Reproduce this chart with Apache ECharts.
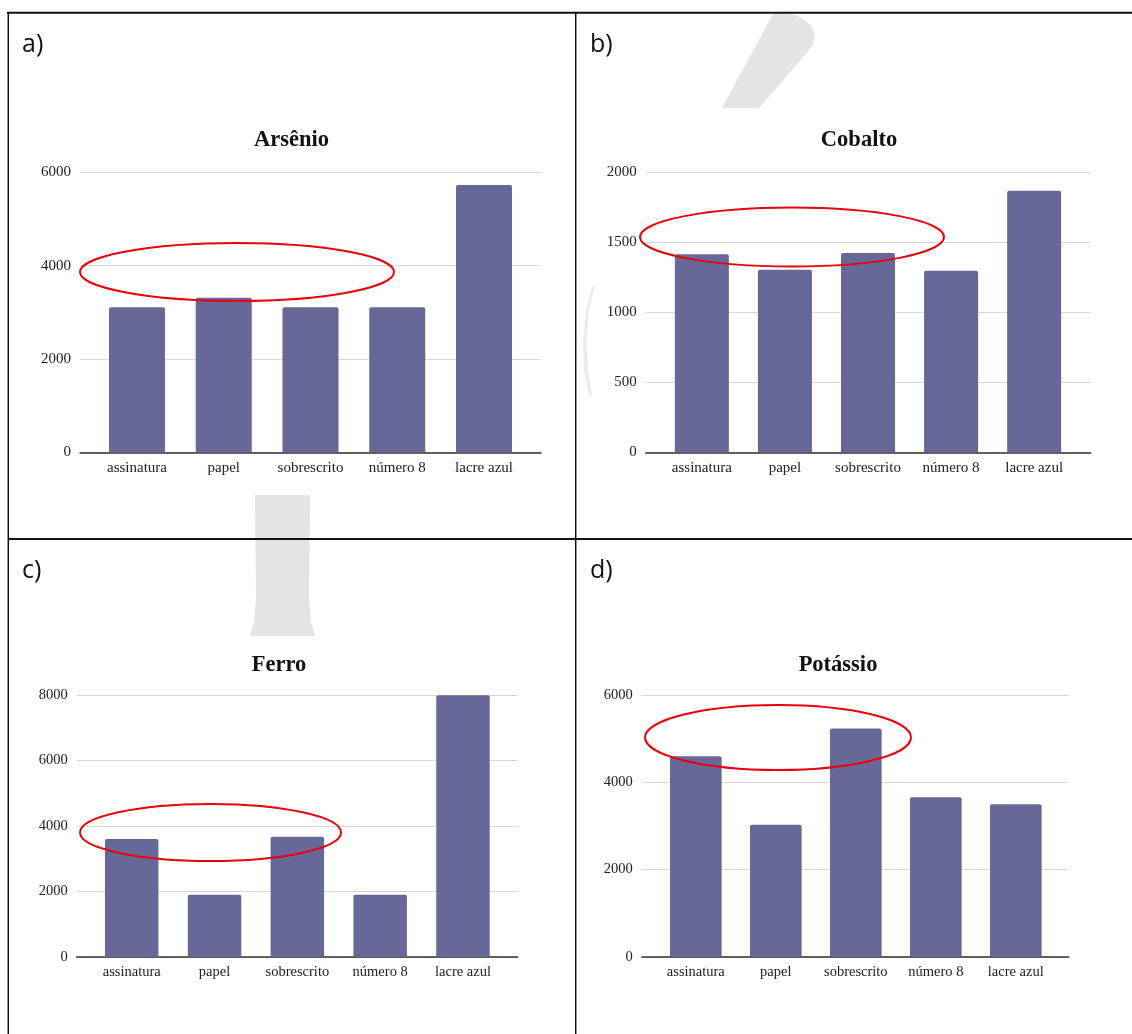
<!DOCTYPE html>
<html>
<head>
<meta charset="utf-8">
<script src="https://cdn.jsdelivr.net/npm/echarts@6/dist/echarts.min.js"></script>
<style>
html,body{margin:0;padding:0;background:#fff;}
#c{width:1132px;height:1034px;}
</style>
</head>
<body>
<div id="c"></div>
<script>
// ---- data ----
const categories = ['assinatura', 'papel', 'sobrescrito', 'número 8', 'lacre azul'];
const arsenio  = [3110, 3310, 3110, 3110, 5730];
const cobalto  = [1413, 1303, 1422, 1296, 1867];
const ferro    = [3600, 1900, 3670, 1900, 7990];
const potassio = [4600, 3030, 5230, 3660, 3500];
const titles = ['Arsênio', 'Cobalto', 'Ferro', 'Potássio'];
const panelLabels = ['a)', 'b)', 'c)', 'd)'];
const yMax = [6000, 2000, 8000, 6000];
const yStep = [2000, 500, 2000, 2000];
const seriesData = [arsenio, cobalto, ferro, potassio];

// ---- layout (styles / positions) ----
const layout = [
  {backL: 80,    backW: 461, frontL: 93.6,  frontW: 433.8, top: 172.3, h: 280,   barW: 56,   font: 15,   titleX: 291.5, titleY: 140, labelX: 22,  labelY: 45},
  {backL: 645.7, backW: 445, frontL: 660.3, frontW: 415.4, top: 172,   h: 280.3, barW: 54,   font: 15,   titleX: 859,   titleY: 140, labelX: 590, labelY: 45},
  {backL: 76.7,  backW: 441, frontL: 90.3,  frontW: 414.1, top: 695,   h: 262,   barW: 53.5, font: 14.5, titleX: 279,   titleY: 665, labelX: 22,  labelY: 571},
  {backL: 641.7, backW: 427, frontL: 655.8, frontW: 400,   top: 695,   h: 262,   barW: 51.7, font: 14.5, titleX: 838,   titleY: 665, labelX: 590, labelY: 571}
];
const ellipses = [
  {cx: 237, cy: 272, rx: 157, ry: 29},
  {cx: 792, cy: 237, rx: 152, ry: 29.5},
  {cx: 210.5, cy: 832.5, rx: 130.5, ry: 28.5},
  {cx: 778, cy: 737.5, rx: 133, ry: 32.5}
];
const serif = '"Liberation Serif", "Times New Roman", serif';
const barColor = '#676897';

const grid = [], xAxis = [], yAxis = [], series = [], graphic = [];
layout.forEach((L, i) => {
  grid.push({left: L.backL, top: L.top, width: L.backW, height: L.h});
});
layout.forEach((L, i) => {
  grid.push({left: L.frontL, top: L.top, width: L.frontW, height: L.h});
});
layout.forEach((L, i) => {
  xAxis.push({
    type: 'value', gridIndex: i, min: 0, max: 1,
    axisLine: {show: true, lineStyle: {color: '#333', width: 1.5}},
    axisTick: {show: false}, axisLabel: {show: false}, splitLine: {show: false}
  });
  yAxis.push({
    type: 'value', gridIndex: i, min: 0, max: yMax[i], interval: yStep[i],
    axisLine: {show: false}, axisTick: {show: false},
    axisLabel: {margin: 9, color: '#222', fontFamily: serif, fontSize: L.font, formatter: v => String(v)},
    splitLine: {lineStyle: {color: '#d6d6d6', width: 1}}
  });
});
layout.forEach((L, i) => {
  xAxis.push({
    type: 'category', gridIndex: 4 + i, data: categories,
    axisLine: {show: false}, axisTick: {show: false},
    axisLabel: {interval: 0, margin: 8, color: '#222', fontFamily: serif, fontSize: L.font}
  });
  yAxis.push({
    type: 'value', gridIndex: 4 + i, min: 0, max: yMax[i], interval: yStep[i], show: false
  });
  series.push({
    type: 'bar', xAxisIndex: 4 + i, yAxisIndex: 4 + i, data: seriesData[i],
    barWidth: L.barW, itemStyle: {color: barColor, borderRadius: [2, 2, 0, 0]},
    silent: true, animation: false
  });
  graphic.push({
    type: 'text', x: L.titleX, y: L.titleY, z: 100,
    style: {text: titles[i], fill: '#111', font: 'bold 22.5px ' + serif, textAlign: 'center', textVerticalAlign: 'middle'}
  });
  graphic.push({
    type: 'text', x: L.labelX, y: L.labelY, z: 100,
    style: {text: panelLabels[i], fill: '#111', font: '25px "Open Sans", sans-serif', textAlign: 'left', textVerticalAlign: 'middle'}
  });
  const E = ellipses[i];
  graphic.push({
    type: 'ellipse', z: 120, shape: {cx: E.cx, cy: E.cy, rx: E.rx, ry: E.ry},
    style: {fill: 'none', stroke: '#e8000b', lineWidth: 2}
  });
});

// faint watermark shapes
const wm = '#e4e4e4';
graphic.push({type: 'polygon', z: -1, shape: {points: [[722,108],[759,108],[805,55],[813,44],[815,36],[812,27],[805,20],[795,15],[783,13],[773,14]]}, style: {fill: wm}});
graphic.push({type: 'polygon', z: -1, shape: {points: [[592,286],[586,310],[583,340],[584,370],[589,396],[592,396],[588,370],[587,340],[589,310],[595,286]]}, style: {fill: '#ececec'}});
graphic.push({type: 'polygon', z: -1, shape: {points: [[255,495],[310,495],[309,600],[311,622],[315,636],[250,636],[254,622],[256,600]]}, style: {fill: wm}});

// table borders
const bs = {stroke: '#111', lineWidth: 1.5};
graphic.push({type: 'line', z: 110, shape: {x1: 7, y1: 12.7, x2: 1132, y2: 12.7}, style: {stroke: '#111', lineWidth: 2}});
graphic.push({type: 'line', z: 110, shape: {x1: 8.3, y1: 12, x2: 8.3, y2: 1034}, style: bs});
graphic.push({type: 'line', z: 110, shape: {x1: 575.7, y1: 12, x2: 575.7, y2: 1034}, style: bs});
graphic.push({type: 'line', z: 110, shape: {x1: 8, y1: 539, x2: 1132, y2: 539}, style: {stroke: '#111', lineWidth: 2}});

const chart = echarts.init(document.getElementById('c'), null, {renderer: 'canvas'});
chart.setOption({
  animation: false,
  backgroundColor: '#fff',
  grid: grid, xAxis: xAxis, yAxis: yAxis, series: series,
  graphic: {elements: graphic}
});
</script>
</body>
</html>
